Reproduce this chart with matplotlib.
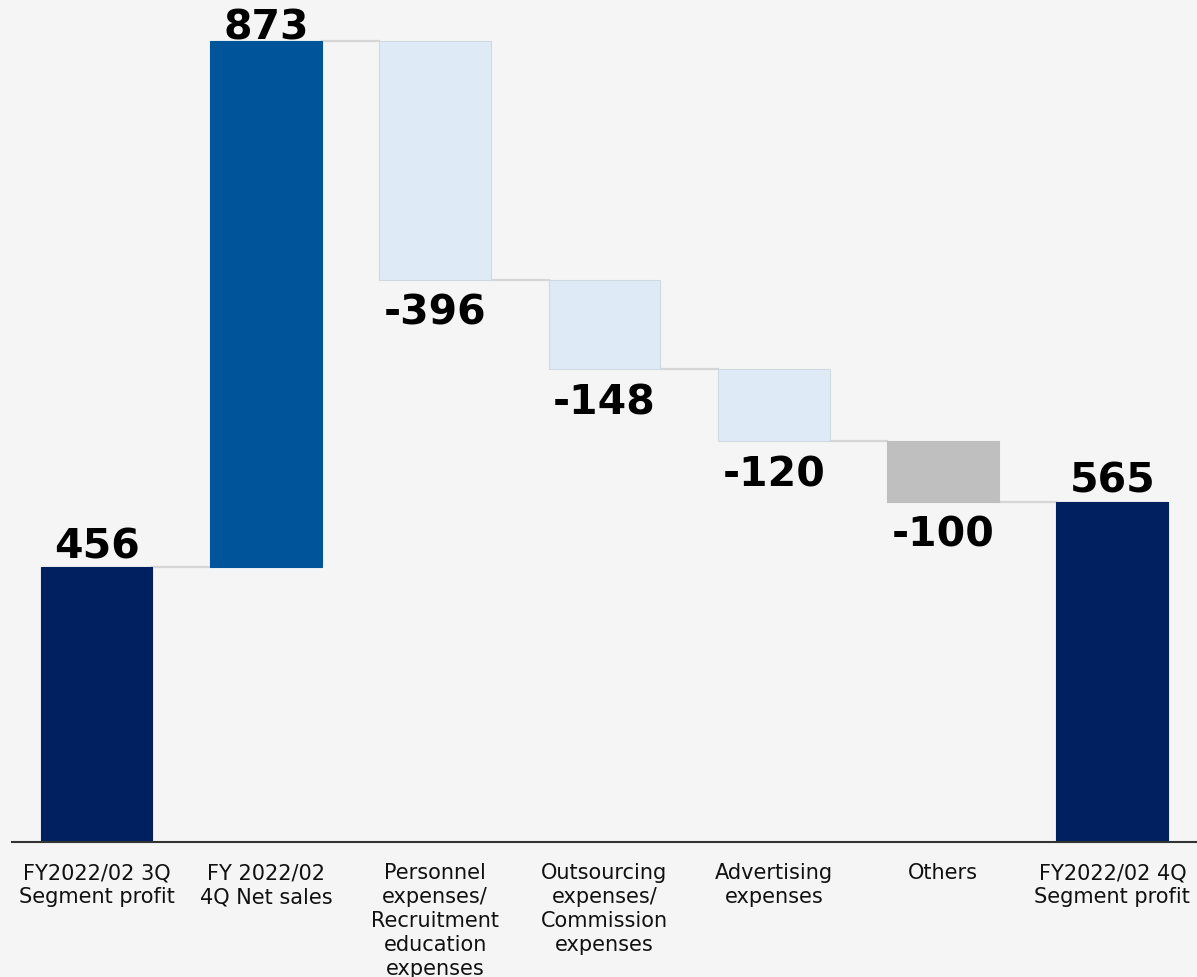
import matplotlib
matplotlib.use("Agg")
import matplotlib.pyplot as plt

plt.rcParams['font.family'] = ['DejaVu Sans']

categories = ["FY2022/02 3Q\nSegment profit", "FY 2022/02\n4Q Net sales",
              "Personnel\nexpenses/\nRecruitment\neducation\nexpenses",
              "Outsourcing\nexpenses/\nCommission\nexpenses",
              "Advertising\nexpenses", "Others", "FY2022/02 4Q\nSegment profit"]
changes = [456, 873, -396, -148, -120, -100, 565]
kinds = ["total", "up", "down", "down", "down", "other", "total"]

colors = {"total": "#002060", "up": "#00559a", "down": "#deeaf6", "other": "#bfbfbf"}
edges = {"total": "#002060", "up": "#00559a", "down": "#d0d8e0", "other": "#bfbfbf"}
bg = "#f5f5f5"

fig = plt.figure(figsize=(11.97, 9.77), dpi=100, facecolor=bg)
ax = fig.add_axes([0.01, 0.138, 0.99, 0.862])
ax.set_facecolor(bg)

ymax = 1397
w = 0.66
running = 0
tops = []
for i, (v, k) in enumerate(zip(changes, kinds)):
    if k == "total":
        bottom, height = 0, v
        running = v
    else:
        if v >= 0:
            bottom, height = running, v
        else:
            bottom, height = running + v, -v
        running += v
    ax.bar(i, height, bottom=bottom, width=w, color=colors[k],
           edgecolor=edges[k], linewidth=0.8, zorder=2)
    tops.append(running)
    if v >= 0:
        # squeeze the label down when it would run off the top
        off = 6.5 if bottom + height < ymax - 100 else 0.8
        ax.annotate(str(v), (i, bottom + height), xytext=(0, off),
                    textcoords="offset points", ha="center", va="baseline",
                    fontsize=29.5, fontweight="bold", color="black", zorder=4)
    else:
        ax.annotate(str(v), (i, bottom), xytext=(0, -32.5),
                    textcoords="offset points", ha="center", va="baseline",
                    fontsize=29.5, fontweight="bold", color="black", zorder=4)

# connector lines
for i in range(len(changes) - 1):
    ax.plot([i + w / 2, i + 1 - w / 2], [tops[i], tops[i]],
            color="#d6d6d6", linewidth=1.6, zorder=1)

ax.set_xlim(-0.5, 6.5)
ax.set_ylim(0, ymax)
ax.set_xticks(range(len(categories)))
ax.set_xticklabels(categories, fontsize=15, linespacing=1.25, color="#111111")
ax.tick_params(axis="x", length=0, pad=15)
ax.set_yticks([])
for s in ["top", "right", "left"]:
    ax.spines[s].set_visible(False)
ax.spines["bottom"].set_color("#333333")
ax.spines["bottom"].set_linewidth(1.5)

fig.savefig("out.png", dpi=100, facecolor=bg)
